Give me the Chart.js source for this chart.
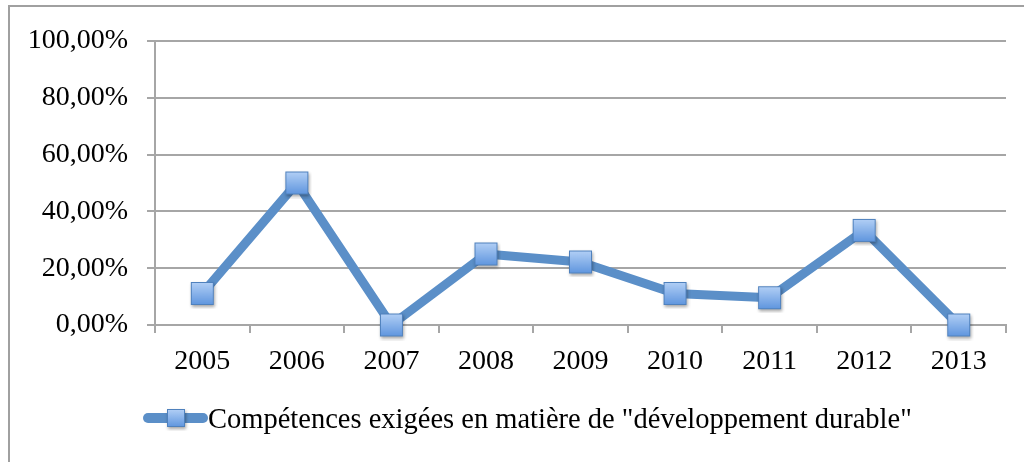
<!DOCTYPE html>
<html>
<head>
<meta charset="utf-8">
<script src="https://cdn.jsdelivr.net/npm/chart.js@4.4.1/dist/chart.umd.min.js"></script>
<style>
  html, body { margin: 0; padding: 0; background: #fff; }
  #wrap { position: relative; width: 1027px; height: 462px; }
</style>
</head>
<body>
<div id="wrap"><canvas id="chart" width="1027" height="462"></canvas></div>
<script>
/* ===== DATA ===== */
const YEARS = ['2005', '2006', '2007', '2008', '2009', '2010', '2011', '2012', '2013'];
const SHARE = [11.1, 50, 0, 25, 22.2, 11.1, 9.6, 33.3, 0];
const SERIES_LABEL = 'Compétences exigées en matière de "développement durable"';
const Y_TICKS = [0, 20, 40, 60, 80, 100];

/* ===== STYLE ===== */
const LINE_COLOR = '#5b8fc8';
const GRID_COLOR = '#a6a6a6';
const FONT = "'Liberation Serif', 'Times New Roman', serif";

const fmtPct = (v) => v.toFixed(2).replace('.', ',') + '%';

// square marker with gradient + soft shadow, used as point style
function makeMarker(size) {
  const pad = 4;
  const c = document.createElement('canvas');
  c.width = size + pad * 2;
  c.height = size + pad * 2;
  const g = c.getContext('2d');
  g.shadowColor = 'rgba(0,0,0,0.35)';
  g.shadowBlur = 3;
  g.shadowOffsetX = 1;
  g.shadowOffsetY = 2;
  const grad = g.createLinearGradient(0, pad, 0, pad + size);
  grad.addColorStop(0, '#b3d0f6');
  grad.addColorStop(1, '#5e95de');
  g.fillStyle = grad;
  g.fillRect(pad, pad, size, size);
  g.shadowColor = 'transparent';
  g.strokeStyle = '#4f81bd';
  g.lineWidth = 1;
  g.strokeRect(pad + 0.5, pad + 0.5, size - 1, size - 1);
  return c;
}

const marker = makeMarker(23);
const legendMarker = makeMarker(18);

/* ===== PLUGINS ===== */
const frame = {
  id: 'frame',
  beforeDraw(chart) {
    const ctx = chart.ctx;
    ctx.save();
    ctx.strokeStyle = '#a0a0a0';
    ctx.lineWidth = 2;
    ctx.beginPath();
    ctx.moveTo(9, 462);
    ctx.lineTo(9, 6);
    ctx.lineTo(1024, 6);
    ctx.stroke();
    ctx.restore();
  }
};

const bottomLegend = {
  id: 'bottomLegend',
  afterDraw(chart) {
    const ctx = chart.ctx;
    const ds = chart.data.datasets[0];
    const y = 418;
    ctx.save();
    ctx.strokeStyle = LINE_COLOR;
    ctx.lineWidth = 10;
    ctx.lineCap = 'round';
    ctx.beginPath();
    ctx.moveTo(148, y);
    ctx.lineTo(203, y);
    ctx.stroke();
    ctx.drawImage(legendMarker, 176 - legendMarker.width / 2, y - legendMarker.height / 2);
    ctx.fillStyle = '#000';
    ctx.font = '28.5px ' + FONT;
    ctx.textBaseline = 'middle';
    ctx.textAlign = 'left';
    ctx.fillText(ds.label, 208, y + 3);
    ctx.restore();
  }
};

/* ===== CHART ===== */
new Chart(document.getElementById('chart'), {
  type: 'line',
  data: {
    labels: YEARS,
    datasets: [{
      label: SERIES_LABEL,
      data: SHARE,
      borderColor: LINE_COLOR,
      borderWidth: 9,
      borderJoinStyle: 'round',
      tension: 0,
      clip: false,
      pointStyle: marker,
      pointRadius: 12,
      pointHoverRadius: 12,
    }]
  },
  options: {
    responsive: false,
    animation: false,
    layout: { padding: { top: 41, left: 0, right: 21, bottom: 87 } },
    plugins: { legend: { display: false }, tooltip: { enabled: false } },
    scales: {
      x: {
        offset: true,
        grid: { offset: true, drawOnChartArea: false, drawTicks: true, tickLength: 8, color: GRID_COLOR, lineWidth: 2 },
        border: { color: GRID_COLOR, width: 2 },
        ticks: { color: '#000', font: { family: FONT, size: 28 }, padding: 12, maxRotation: 0 },
        afterFit(scale) { scale.height = 50; }
      },
      y: {
        min: 0,
        max: 100,
        afterBuildTicks(scale) { scale.ticks = Y_TICKS.map((v) => ({ value: v })); },
        grid: { color: GRID_COLOR, lineWidth: 2, tickLength: 8 },
        border: { color: GRID_COLOR, width: 2 },
        ticks: { color: '#000', font: { family: FONT, size: 28 }, padding: 19, callback: (v) => fmtPct(v) },
        afterFit(scale) { scale.width = 155; }
      }
    }
  },
  plugins: [frame, bottomLegend]
});
</script>
</body>
</html>
